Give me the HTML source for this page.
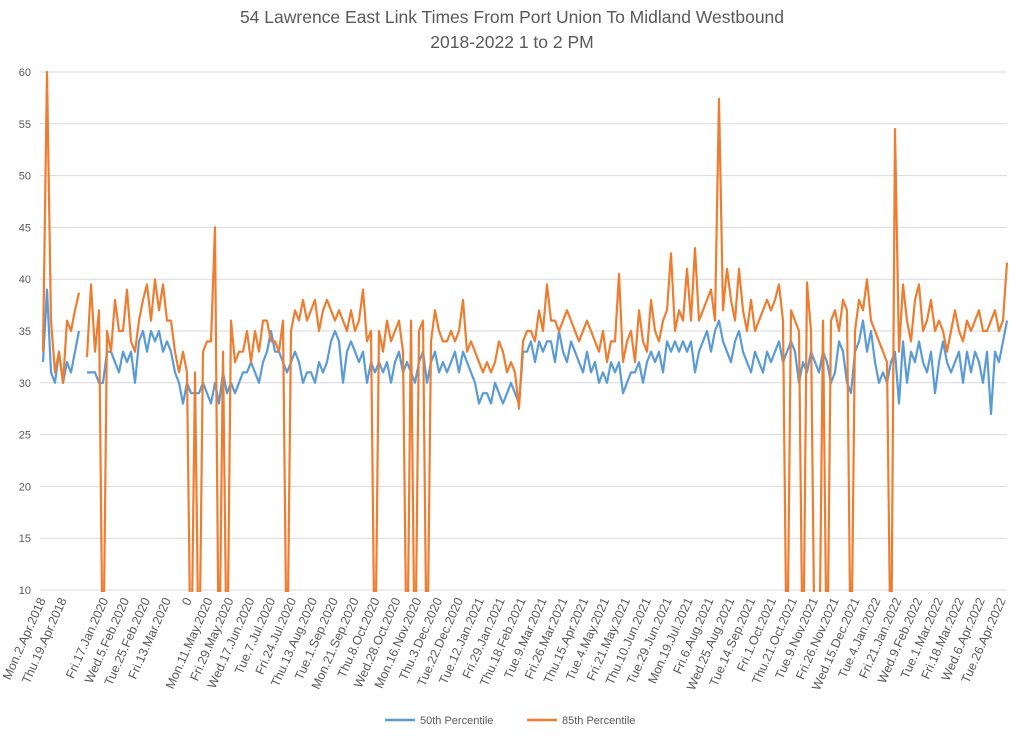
<!DOCTYPE html>
<html><head><meta charset="utf-8"><style>
body{margin:0;background:#fff;}
svg{display:block;font-family:"Liberation Sans",sans-serif;}
</style></head><body>
<svg id="chart" width="1024" height="737" viewBox="0 0 1024 737">
<text x="512" y="23" text-anchor="middle" font-size="17.5" fill="#595959">54 Lawrence East Link Times From Port Union To Midland Westbound</text>
<text x="512" y="48" text-anchor="middle" font-size="17.5" fill="#595959">2018-2022 1 to 2 PM</text>
<defs><clipPath id="plotclip"><rect x="40" y="66" width="972" height="526"/></clipPath></defs>
<g id="grid"></g>
<g id="yticks"></g>
<g id="xticks"></g>
<g clip-path="url(#plotclip)" id="series"></g>
<g>
<line x1="385" y1="720" x2="415" y2="720" stroke="#5B9BD5" stroke-width="2.5"/>
<text x="420" y="724" font-size="11" fill="#595959">50th Percentile</text>
<line x1="527" y1="720" x2="557" y2="720" stroke="#ED7D31" stroke-width="2.5"/>
<text x="562" y="724" font-size="11" fill="#595959">85th Percentile</text>
</g>
</svg>
<script>
const yTicks=[10,15,20,25,30,35,40,45,50,55,60];
const xLabels=["Mon.2.Apr.2018","Thu.19.Apr.2018","","Fri.17.Jan.2020","Wed.5.Feb.2020","Tue.25.Feb.2020","Fri.13.Mar.2020","0","Mon.11.May.2020","Fri.29.May.2020","Wed.17.Jun.2020","Tue.7.Jul.2020","Fri.24.Jul.2020","Thu.13.Aug.2020","Tue.1.Sep.2020","Mon.21.Sep.2020","Thu.8.Oct.2020","Wed.28.Oct.2020","Mon.16.Nov.2020","Thu.3.Dec.2020","Tue.22.Dec.2020","Tue.12.Jan.2021","Fri.29.Jan.2021","Thu.18.Feb.2021","Tue.9.Mar.2021","Fri.26.Mar.2021","Thu.15.Apr.2021","Tue.4.May.2021","Fri.21.May.2021","Thu.10.Jun.2021","Tue.29.Jun.2021","Mon.19.Jul.2021","Fri.6.Aug.2021","Wed.25.Aug.2021","Tue.14.Sep.2021","Fri.1.Oct.2021","Thu.21.Oct.2021","Tue.9.Nov.2021","Fri.26.Nov.2021","Wed.15.Dec.2021","Tue.4.Jan.2022","Fri.21.Jan.2022","Wed.9.Feb.2022","Tue.1.Mar.2022","Fri.18.Mar.2022","Wed.6.Apr.2022","Tue.26.Apr.2022"];
const p50=[32,39,31,30,33,30,32,31,33,35,null,31,31,31,30,30,33,33,32,31,
33,32,33,30,34,35,33,35,34,35,33,34,33,31,30,28,30,29,29,29,
30,29,28,30,28,31,29,30,29,30,31,31,32,31,30,32,33,35,33,33,
32,31,32,33,32,30,31,31,30,32,31,32,34,35,34,30,33,34,33,32,
33,30,32,31,32,31,32,30,32,33,31,32,31,30,32,33,30,32,33,31,
32,31,32,33,31,33,32,31,30,28,29,29,28,30,29,28,29,30,29,28,
33,33,34,32,34,33,34,34,32,35,33,32,34,33,32,31,33,31,32,30,
31,30,32,31,32,29,30,31,31,32,30,32,33,32,33,31,34,33,34,33,
34,33,34,31,33,34,35,33,35,36,34,33,32,34,35,33,32,31,33,32,
31,33,32,33,34,32,33,34,33,30,32,31,33,32,31,33,32,30,31,34,
33,30,29,33,34,36,33,35,32,30,31,30,32,33,28,34,30,33,32,34,
32,31,33,29,32,34,32,31,32,33,30,33,31,33,32,30,33,27,33,32,34,36];
const p85=[33,60,36,31,33,30,36,35,37,38.7,null,32.5,39.5,33,37,0,35,33,38,35,
35,39,34,33,36,38,39.5,36,40,37,39.5,36,36,33,31,33,31,0,31,0,
33,34,34,45,0,33,0,36,32,33,33,35,32,35,33,36,36,34,34,33,
36,0,35,37,36,38,36,37,38,35,37,38,37,36,37,36,35,37,35,36,
39,34,35,0,35,33,36,34,35,36,33,0,36,0,35,36,0,34,37,35,
34,34,35,34,35,38,33,34,33,32,31,32,31,32,34,33,31,32,31,27.5,
34,35,35,34,37,35,39.5,36,36,35,36,37,36,35,34,35,36,35,34,33,
35,32,34,34,40.5,32,34,35,32,37,34,33,38,35,34,36,37,42.5,35,37,
36,41,36,43,36,37,38,39,36,57.4,37,41,38,36,41,37,35,38,35,36,
37,38,37,38,39.5,36,0,37,36,35,0,39.7,35,0,0,36,0,36,37,35,
38,37,0,35,38,37,40,36,35,34,33,32,0,54.5,33,39.5,36,34,38,39.5,
35,36,38,35,36,35,33,35,37,35,34,36,35,36,37,35,35,36,37,35,36,41.6];

const NS="http://www.w3.org/2000/svg";
const X0=43,X1=1007,Y60=72,Y10=590;
function yScale(v){return Y10-(v-10)*(Y10-Y60)/50;}
function xScale(i){return X0+i*(X1-X0)/(p50.length-1);}
function slotX(s){return 46+s*(1006-46)/(xLabels.length-1);}
const grid=document.getElementById('grid'),yt=document.getElementById('yticks'),xt=document.getElementById('xticks'),ser=document.getElementById('series');
yTicks.forEach(v=>{
 const l=document.createElementNS(NS,'line');
 l.setAttribute('x1',40);l.setAttribute('x2',1007);l.setAttribute('y1',yScale(v));l.setAttribute('y2',yScale(v));
 l.setAttribute('stroke','#d9d9d9');l.setAttribute('stroke-width','1');
 
 
 grid.appendChild(l);
 const t=document.createElementNS(NS,'text');
 t.setAttribute('x',31);t.setAttribute('y',yScale(v)+4);t.setAttribute('text-anchor','end');
 t.setAttribute('font-size','11');t.setAttribute('fill','#595959');t.textContent=v;
 
 
 yt.appendChild(t);
});
xLabels.forEach((s,k)=>{
 if(!s)return;
 const x=slotX(k),y=600;
 const t=document.createElementNS(NS,'text');
 t.setAttribute('x',x);t.setAttribute('y',y);t.setAttribute('text-anchor','end');
 t.setAttribute('font-size','12.5');t.setAttribute('fill','#595959');
 t.setAttribute('transform','rotate(-66 '+x+' '+y+')');
 t.textContent=s;
 
 
 xt.appendChild(t);
});
function draw(arr,color,name){
 let d='',pen=false;
 arr.forEach((v,i)=>{
  if(v===null){pen=false;return;}
  d+=(pen?'L':'M')+xScale(i).toFixed(1)+' '+yScale(v).toFixed(1)+' ';pen=true;
 });
 const p=document.createElementNS(NS,'path');
 p.setAttribute('d',d);p.setAttribute('fill','none');p.setAttribute('stroke',color);
 p.setAttribute('stroke-width','2.2');p.setAttribute('stroke-linejoin','round');
 
 
 ser.appendChild(p);
}
draw(p50,'#5B9BD5','series-50th-percentile');
draw(p85,'#ED7D31','series-85th-percentile');
</script>
</body></html>
